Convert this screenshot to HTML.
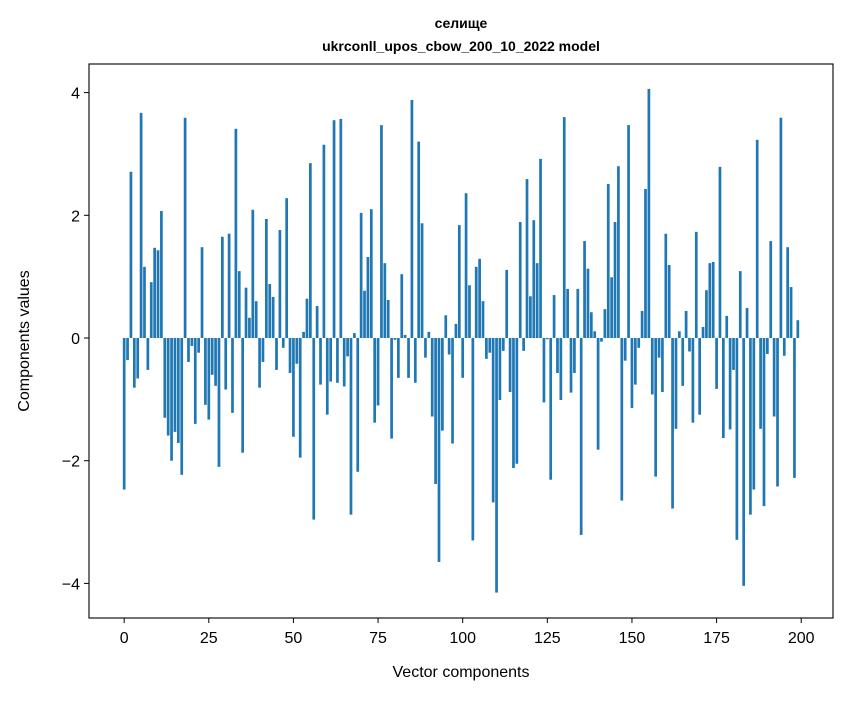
<!DOCTYPE html>
<html><head><meta charset="utf-8"><style>
body{margin:0;background:#fff;width:847px;height:696px;overflow:hidden;font-family:"Liberation Sans",sans-serif}
</style></head><body>
<svg id="chart" width="847" height="696" xmlns="http://www.w3.org/2000/svg" font-family="Liberation Sans, DejaVu Sans, sans-serif">
<text x="461" y="28" text-anchor="middle" font-size="14" font-weight="bold">селище</text>
<text x="461" y="51" text-anchor="middle" font-size="14" font-weight="bold">ukrconll_upos_cbow_200_10_2022 model</text>
<g id="bars"></g>
<g id="axes"></g>
<text x="461" y="677" text-anchor="middle" font-size="16">Vector components</text>
<text transform="translate(29,341) rotate(-90)" text-anchor="middle" font-size="16">Components values</text>
</svg>
<script>
const values = [-2.47,-0.36,2.71,-0.81,-0.66,3.67,1.16,-0.52,0.91,1.47,1.43,2.07,-1.30,-1.59,-2.0,-1.53,-1.71,-2.23,3.59,-0.39,-0.13,-1.40,-0.24,1.48,-1.09,-1.33,-0.60,-0.78,-2.10,1.65,-0.84,1.70,-1.22,3.41,1.09,-1.87,0.82,0.33,2.09,0.60,-0.81,-0.39,1.94,0.88,0.67,-0.52,1.76,-0.16,2.28,-0.57,-1.61,-0.42,-1.95,0.10,0.64,2.85,-2.96,0.52,-0.76,3.15,-1.25,-0.71,3.55,-0.73,3.57,-0.79,-0.30,-2.88,0.08,-2.18,2.04,0.77,1.32,2.10,-1.38,-1.10,3.47,1.22,0.62,-1.64,-0.03,-0.65,1.04,0.05,-0.65,3.88,-0.73,3.20,1.87,-0.32,0.10,-1.28,-2.38,-3.65,-1.51,0.37,-0.27,-1.72,0.23,1.84,-0.65,2.36,0.86,-3.30,1.16,1.29,0.60,-0.34,-0.24,-2.68,-4.15,-1.01,-0.21,1.11,-0.88,-2.12,-2.05,1.89,-0.21,2.59,0.68,1.92,1.22,2.92,-1.05,-0.02,-2.31,0.70,-0.57,-1.01,3.60,0.80,-0.89,-0.57,0.80,-3.21,1.58,1.13,0.42,0.11,-1.82,-0.06,0.47,2.51,0.99,1.89,2.80,-2.65,-0.37,3.47,-1.14,-0.76,-0.16,0.44,2.43,4.06,-0.92,-2.26,-0.32,-0.88,1.70,1.19,-2.78,-1.48,0.11,-0.78,0.44,-0.22,-1.38,1.73,-1.25,0.18,0.78,1.22,1.24,-0.83,2.79,-1.63,0.36,-1.49,-0.52,-3.29,1.09,-4.04,0.49,-2.88,-2.47,3.23,-1.48,-2.74,-0.26,1.58,-1.28,-2.42,3.59,-0.29,1.48,0.83,-2.28,0.29];
const xTicks = [0,25,50,75,100,125,150,175,200];
const yTicks = [-4,-2,0,2,4];
const yTickLabels = ["−4","−2","0","2","4"];
const NS="http://www.w3.org/2000/svg";
const X0=89,X1=833,Y0=64,Y1=618;
const xMin=-10.39,xMax=209.39;
const sx=v=>X0+(v-xMin)/(xMax-xMin)*(X1-X0);
const sy=v=>338-v*61.35;
const bars=document.getElementById('bars');
values.forEach((v,i)=>{
  const r=document.createElementNS(NS,'rect');
  
  
  const x=sx(i-0.4),w=sx(i+0.4)-x;
  r.setAttribute('x',x);r.setAttribute('width',w);
  r.setAttribute('y',Math.min(sy(v),sy(0)));
  r.setAttribute('height',Math.abs(sy(v)-sy(0)));
  r.setAttribute('fill','#1f77b4');
  bars.appendChild(r);
});
const ax=document.getElementById('axes');
const frame=document.createElementNS(NS,'rect');


frame.setAttribute('x',X0);frame.setAttribute('y',Y0);frame.setAttribute('width',X1-X0);frame.setAttribute('height',Y1-Y0);
frame.setAttribute('fill','none');frame.setAttribute('stroke','#000');frame.setAttribute('stroke-width','1.1');
ax.appendChild(frame);
xTicks.forEach(t=>{
  const x=sx(t);
  const l=document.createElementNS(NS,'line');
  
  
  l.setAttribute('x1',x);l.setAttribute('x2',x);l.setAttribute('y1',Y1);l.setAttribute('y2',Y1+5);l.setAttribute('stroke','#000');
  ax.appendChild(l);
  const tx=document.createElementNS(NS,'text');
  
  
  tx.setAttribute('x',x);tx.setAttribute('y',643);tx.setAttribute('text-anchor','middle');tx.setAttribute('font-size','16');
  tx.textContent=t;ax.appendChild(tx);
});
yTicks.forEach((t,k)=>{
  const y=sy(t);
  const l=document.createElementNS(NS,'line');
  
  
  l.setAttribute('x1',X0-5);l.setAttribute('x2',X0);l.setAttribute('y1',y);l.setAttribute('y2',y);l.setAttribute('stroke','#000');
  ax.appendChild(l);
  const tx=document.createElementNS(NS,'text');
  
  
  tx.setAttribute('x',X0-9);tx.setAttribute('y',y+6);tx.setAttribute('text-anchor','end');tx.setAttribute('font-size','16');
  tx.textContent=yTickLabels[k];ax.appendChild(tx);
});
</script>
</body></html>
